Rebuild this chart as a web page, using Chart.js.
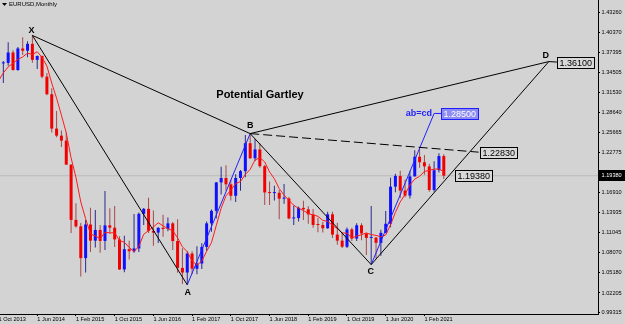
<!DOCTYPE html>
<html><head><meta charset="utf-8">
<script src="https://cdn.jsdelivr.net/npm/chart.js@4.4.1/dist/chart.umd.min.js"></script>
<style>html,body{margin:0;padding:0;background:#d3d3d3;overflow:hidden}canvas{display:block}</style>
</head><body><canvas id="c" width="625" height="324"></canvas>
<script>
// ---- categories (monthly candles, Oct 2013 .. Jun 2021) ----
const months = [
 'Oct 2013','Nov 2013','Dec 2013',
 'Jan 2014','Feb 2014','Mar 2014','Apr 2014','May 2014','Jun 2014','Jul 2014','Aug 2014','Sep 2014','Oct 2014','Nov 2014','Dec 2014',
 'Jan 2015','Feb 2015','Mar 2015','Apr 2015','May 2015','Jun 2015','Jul 2015','Aug 2015','Sep 2015','Oct 2015','Nov 2015','Dec 2015',
 'Jan 2016','Feb 2016','Mar 2016','Apr 2016','May 2016','Jun 2016','Jul 2016','Aug 2016','Sep 2016','Oct 2016','Nov 2016','Dec 2016',
 'Jan 2017','Feb 2017','Mar 2017','Apr 2017','May 2017','Jun 2017','Jul 2017','Aug 2017','Sep 2017','Oct 2017','Nov 2017','Dec 2017',
 'Jan 2018','Feb 2018','Mar 2018','Apr 2018','May 2018','Jun 2018','Jul 2018','Aug 2018','Sep 2018','Oct 2018','Nov 2018','Dec 2018',
 'Jan 2019','Feb 2019','Mar 2019','Apr 2019','May 2019','Jun 2019','Jul 2019','Aug 2019','Sep 2019','Oct 2019','Nov 2019','Dec 2019',
 'Jan 2020','Feb 2020','Mar 2020','Apr 2020','May 2020','Jun 2020','Jul 2020','Aug 2020','Sep 2020','Oct 2020','Nov 2020','Dec 2020',
 'Jan 2021','Feb 2021','Mar 2021','Apr 2021','May 2021','Jun 2021'];

// ---- OHLC series ----
const open = [1.3525,1.3583,1.3590,
 1.3743,1.3486,1.3802,1.3769,1.3870,1.3635,1.3692,1.3389,1.3132,1.2628,1.2525,1.2452,
 1.2100,1.1291,1.1196,1.0731,1.1224,1.0987,1.1144,1.0983,1.1211,1.1177,1.1005,1.0565,
 1.0862,1.0832,1.0873,1.1380,1.1453,1.1131,1.1105,1.1175,1.1157,1.1240,1.0981,1.0588,
 1.0520,1.0798,1.0575,1.0652,1.0895,1.1240,1.1424,1.1840,1.1905,1.1812,1.1644,1.1905,
 1.2005,1.2414,1.2193,1.2323,1.2078,1.1693,1.1684,1.1688,1.1602,1.1604,1.1312,1.1317,
 1.1467,1.1446,1.1372,1.1217,1.1216,1.1168,1.1373,1.1076,1.0987,1.0898,1.1152,1.1017,
 1.1212,1.1093,1.1027,1.1031,1.0955,1.1102,1.1234,1.1778,1.1935,1.1721,1.1647,1.1928,
 1.2216,1.2136,1.2074,1.1729,1.2019,1.2226];
const high = [1.3832,1.3620,1.3893,
 1.3775,1.3824,1.3967,1.3906,1.3993,1.3700,1.3700,1.3444,1.3221,1.2886,1.2601,1.2570,
 1.2107,1.1534,1.1244,1.1290,1.1467,1.1436,1.1215,1.1714,1.1460,1.1495,1.1050,1.1060,
 1.0985,1.1376,1.1400,1.1465,1.1616,1.1428,1.1185,1.1366,1.1327,1.1260,1.1300,1.0875,
 1.0830,1.0830,1.0906,1.0950,1.1268,1.1445,1.1847,1.2070,1.2092,1.1880,1.1961,1.2023,
 1.2536,1.2555,1.2476,1.2414,1.2094,1.1852,1.1790,1.1733,1.1815,1.1625,1.1500,1.1486,
 1.1570,1.1489,1.1450,1.1324,1.1265,1.1412,1.1412,1.1250,1.1109,1.1180,1.1175,1.1240,
 1.1240,1.1097,1.1495,1.1040,1.1147,1.1422,1.1908,1.1966,1.2011,1.1881,1.2004,1.2310,
 1.2349,1.2243,1.2113,1.2150,1.2266,1.2254];
const low = [1.3480,1.3295,1.3548,
 1.3478,1.3477,1.3705,1.3673,1.3592,1.3503,1.3366,1.3115,1.2570,1.2500,1.2357,1.2098,
 1.1098,1.1177,1.0462,1.0520,1.0819,1.0887,1.0808,1.0850,1.1087,1.0895,1.0558,1.0523,
 1.0710,1.0810,1.0822,1.1215,1.1098,1.0912,1.0952,1.1045,1.1123,1.0851,1.0518,1.0352,
 1.0340,1.0494,1.0493,1.0570,1.0839,1.1119,1.1312,1.1662,1.1717,1.1574,1.1554,1.1718,
 1.1915,1.2187,1.2155,1.2055,1.1510,1.1508,1.1575,1.1301,1.1526,1.1302,1.1216,1.1269,
 1.1289,1.1234,1.1176,1.1111,1.1107,1.1160,1.1027,1.0927,1.0879,1.0880,1.0981,1.0981,
 1.0992,1.0778,1.0636,1.0727,1.0767,1.1095,1.1185,1.1696,1.1612,1.1622,1.1603,1.1925,
 1.2054,1.1952,1.1704,1.1704,1.1986,1.1890];
const close = [1.3583,1.3590,1.3743,
 1.3486,1.3802,1.3769,1.3870,1.3635,1.3692,1.3389,1.3132,1.2628,1.2525,1.2452,1.2100,
 1.1291,1.1196,1.0731,1.1224,1.0987,1.1144,1.0983,1.1211,1.1177,1.1005,1.0565,1.0862,
 1.0832,1.0873,1.1380,1.1453,1.1131,1.1105,1.1175,1.1157,1.1240,1.0981,1.0588,1.0520,
 1.0798,1.0575,1.0652,1.0895,1.1240,1.1424,1.1840,1.1905,1.1812,1.1644,1.1905,1.2005,
 1.2414,1.2193,1.2323,1.2078,1.1693,1.1684,1.1688,1.1602,1.1604,1.1312,1.1317,1.1467,
 1.1446,1.1372,1.1217,1.1216,1.1168,1.1373,1.1076,1.0987,1.0898,1.1152,1.1017,1.1212,
 1.1093,1.1027,1.1031,1.0955,1.1102,1.1234,1.1778,1.1935,1.1721,1.1647,1.1928,1.2216,
 1.2136,1.2074,1.1729,1.2019,1.2226,1.1938];
// red moving average line
const maLine = [1.3328,1.3444,1.3532,
 1.3585,1.3641,1.3678,1.3734,1.3712,1.3754,1.3671,1.3544,1.3295,1.3073,1.2825,1.2567,
 1.2199,1.1913,1.1554,1.1308,1.1086,1.1056,1.1014,1.1110,1.1100,1.1104,1.0988,1.0964,
 1.0888,1.0827,1.0902,1.1080,1.1134,1.1188,1.1249,1.1204,1.1162,1.1132,1.1028,1.0897,
 1.0825,1.0692,1.0627,1.0688,1.0832,1.0957,1.1210,1.1461,1.1644,1.1725,1.1821,1.1854,
 1.1956,1.2032,1.2168,1.2203,1.2140,1.1994,1.1893,1.1749,1.1654,1.1578,1.1505,1.1460,
 1.1429,1.1383,1.1364,1.1344,1.1284,1.1269,1.1210,1.1164,1.1100,1.1097,1.1026,1.1053,
 1.1074,1.1100,1.1076,1.1064,1.1042,1.1070,1.1220,1.1401,1.1554,1.1663,1.1802,1.1889,
 1.1930,1.2000,1.2017,1.2035,1.2037,1.1997];

// ---- axis ticks ----
const xTickIdx = [0,8,16,24,32,40,48,56,64,72,80,88];
const xTickLabels = ['1 Oct 2013','1 Jun 2014','1 Feb 2015','1 Oct 2015','1 Jun 2016','1 Feb 2017',
 '1 Oct 2017','1 Jun 2018','1 Feb 2019','1 Oct 2019','1 Jun 2020','1 Feb 2021'];
const yTickValues = [0.99315,1.02205,1.05180,1.08070,1.11045,1.13935,1.16910,1.22775,1.25665,1.28640,1.31530,1.34505,1.37395,1.40370,1.43260];

// ---- Gartley pattern points ----
const patternNames = ['X','A','B','C','D'];
const patternIdx = [7, 39, 52, 77, 113.7];
const patternPrice = [1.3993, 1.0340, 1.2555, 1.0636, 1.3610];
const abcdIdx = [90.0];
const abcdPrice = [1.2850];
const bLevelIdx = [99.2];
const bLevelPrice = [1.2283];
const currentPrice = [1.1938];

// ---- build chart ----
const FONT = '"Liberation Sans", Arial, sans-serif';
const idx = months.map((_, k) => k);
const isUp = idx.map(k => close[k] >= open[k]);
const pt = k => ({x: patternIdx[k], y: patternPrice[k]});

const annotate = {
  id: 'annotate',
  afterDatasetsDraw(chart) {
    const {ctx, scales: {x, y}} = chart;
    const px = v => x.getPixelForValue(v), py = v => y.getPixelForValue(v);
    ctx.save();
    // pattern letters
    const off = [[-1, -4.5], [0.5, 7.5], [0, -8.5], [-0.5, 6.5], [-3, -6]];
    ctx.font = 'bold 9px ' + FONT; ctx.fillStyle = '#000';
    ctx.textAlign = 'center'; ctx.textBaseline = 'middle';
    patternNames.forEach((n, k) => ctx.fillText(n, px(patternIdx[k]) + off[k][0], py(patternPrice[k]) + off[k][1]));
    // title
    ctx.font = 'bold 11px ' + FONT; ctx.textAlign = 'left';
    ctx.fillText('Potential Gartley', px(45.0), py(1.3117));
    // ab=cd
    ctx.font = 'bold 9px ' + FONT; ctx.fillStyle = '#1e1eff'; ctx.textAlign = 'right';
    ctx.fillText('ab=cd', px(abcdIdx[0]) - 2, py(abcdPrice[0]) + 0.5);
    // connectors
    ctx.lineWidth = 1;
    ctx.strokeStyle = '#1e1eff';
    ctx.beginPath(); ctx.moveTo(px(abcdIdx[0]), py(abcdPrice[0])); ctx.lineTo(px(abcdIdx[0]) + 7, py(abcdPrice[0])); ctx.stroke();
    ctx.strokeStyle = '#000';
    ctx.beginPath(); ctx.moveTo(px(patternIdx[4]), py(patternPrice[4])); ctx.lineTo(px(patternIdx[4]) + 8, py(patternPrice[4]) + 0.5); ctx.stroke();
    // value boxes
    const box = (text, left, cy, fill, stroke, color) => {
      ctx.font = '9px ' + FONT;
      const w = 37, h = 11, l = Math.round(left), t = Math.round(cy - h / 2);
      ctx.fillStyle = fill; ctx.fillRect(l, t, w, h);
      ctx.strokeStyle = stroke; ctx.strokeRect(l + 0.5, t + 0.5, w, h);
      ctx.fillStyle = color; ctx.textAlign = 'left'; ctx.textBaseline = 'middle';
      ctx.fillText(text, l + 2.5, t + h / 2 + 1);
    };
    box(patternPrice[4].toFixed(5), px(patternIdx[4]) + 8, py(patternPrice[4]) + 1, '#d8d8d8', '#000', '#000');
    box(abcdPrice[0].toFixed(5), px(abcdIdx[0]) + 7, py(abcdPrice[0]), '#8c8cf2', '#1e1eff', '#fff');
    box(bLevelPrice[0].toFixed(5), px(bLevelIdx[0]) + 1.5, py(bLevelPrice[0]), '#d8d8d8', '#000', '#000');
    box(currentPrice[0].toFixed(5), px(idx.length - 1) + 11, py(currentPrice[0]), '#d8d8d8', '#000', '#000');
    ctx.restore();
  },
  afterDraw(chart) {
    const {ctx, scales: {y}} = chart;
    ctx.save();
    // symbol header
    ctx.fillStyle = '#000';
    ctx.beginPath(); ctx.moveTo(2, 3); ctx.lineTo(7, 3); ctx.lineTo(4.5, 6); ctx.closePath(); ctx.fill();
    ctx.font = '6px ' + FONT; ctx.textAlign = 'left'; ctx.textBaseline = 'middle';
    ctx.fillText('EURUSD,Monthly', 9, 4.5);
    // current price tag on axis
    const cy = y.getPixelForValue(currentPrice[0]);
    ctx.fillStyle = '#000'; ctx.fillRect(y.left, Math.round(cy - 5.5), 27, 11);
    ctx.fillStyle = '#fff'; ctx.font = '5.6px ' + FONT;
    ctx.fillText(currentPrice[0].toFixed(5), y.left + 3.5, cy);
    ctx.restore();
  }
};

new Chart(document.getElementById('c'), {
  type: 'bar',
  data: {
    datasets: [
      {type: 'line', data: [{x: -5, y: currentPrice[0]}, {x: 130, y: currentPrice[0]}], borderColor: '#bcbcbc', borderWidth: 1, pointRadius: 0, order: 30},
      {type: 'bar', data: idx.map(k => ({x: k, y: [low[k], high[k]]})), backgroundColor: idx.map(k => isUp[k] ? '#2a2a90' : '#a84848'),
       barThickness: 1, grouped: false, inflateAmount: 0, borderWidth: 0, order: 20},
      {type: 'bar', data: idx.map(k => ({x: k, y: [open[k], close[k]]})), backgroundColor: idx.map(k => isUp[k] ? '#1010ff' : '#f00000'),
       barThickness: 3, minBarLength: 1, grouped: false, inflateAmount: 0, borderWidth: 0, order: 19},
      {type: 'line', data: idx.map(k => ({x: k, y: maLine[k]})), borderColor: '#ff1a1a', borderWidth: 1, pointRadius: 0, tension: 0, order: 10},
      {type: 'line', data: [pt(1), pt(2)], borderColor: '#2020ff', borderWidth: 1, pointRadius: 0, order: 3},
      {type: 'line', data: [pt(3), {x: abcdIdx[0], y: abcdPrice[0]}], borderColor: '#2020ff', borderWidth: 1, pointRadius: 0, order: 3},
      {type: 'line', data: [pt(1), pt(0), pt(2), pt(4)], borderColor: '#000', borderWidth: 1, pointRadius: 0, order: 2},
      {type: 'line', data: [pt(2), pt(3), pt(4)], borderColor: '#000', borderWidth: 1, pointRadius: 0, order: 2},
      {type: 'line', data: [pt(2), {x: bLevelIdx[0], y: bLevelPrice[0]}], borderColor: '#000', borderWidth: 1, borderDash: [9, 4], pointRadius: 0, order: 2}
    ]
  },
  options: {
    responsive: false, animation: false, devicePixelRatio: 1, events: [],
    layout: {padding: 0},
    plugins: {legend: {display: false}, tooltip: {enabled: false}},
    scales: {
      x: {
        type: 'linear', min: 0.31, max: 123.86, offset: false, bounds: 'data',
        afterBuildTicks: s => { s.ticks = xTickIdx.map(v => ({value: v})); },
        afterFit: s => { s.height = 10; s.paddingLeft = 0; s.paddingRight = 0; },
        grid: {drawOnChartArea: false, tickLength: 2, color: '#000', offset: false},
        border: {display: true, color: '#000', width: 1},
        ticks: {align: 'start', maxRotation: 0, autoSkip: false, padding: 0, color: '#000',
          font: {family: FONT, size: 5.6}, callback: (v, i) => xTickLabels[i]}
      },
      y: {
        type: 'linear', position: 'right', min: 0.99125, max: 1.45119, bounds: 'data',
        afterBuildTicks: s => { s.ticks = yTickValues.map(v => ({value: v})); },
        afterFit: s => { s.width = 27; s.paddingTop = 0; s.paddingBottom = 0; },
        grid: {drawOnChartArea: false, tickLength: 2, color: '#000'},
        border: {display: true, color: '#000', width: 1},
        ticks: {padding: 1.5, color: '#000', autoSkip: false, font: {family: FONT, size: 5.6}, callback: v => v.toFixed(5)}
      }
    }
  },
  plugins: [annotate]
});
</script>
</body></html>
